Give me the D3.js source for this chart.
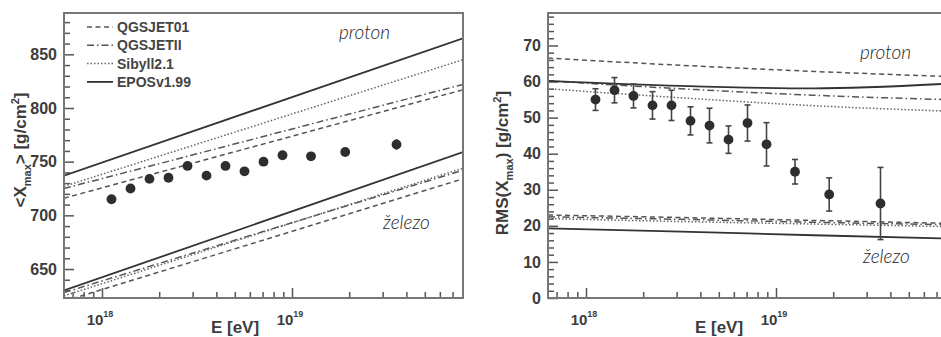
<!DOCTYPE html>
<html>
<head>
<meta charset="utf-8">
<script src="https://cdn.jsdelivr.net/npm/d3@7"></script>
<style>
  body { margin: 0; background: #fff; }
  svg { display: block; font-family: "Liberation Sans", Arial, sans-serif; }
</style>
</head>
<body>
<div id="main"></div>
<script>
// measured bins, log10(E/eV)
const binLogE = [18.05, 18.15, 18.25, 18.35, 18.45, 18.55, 18.65, 18.75, 18.85, 18.95, 19.1, 19.28, 19.55];
const xmaxMean = [715, 725, 734, 735, 746, 737, 746, 741, 750, 756, 755, 759, 766];
const xmaxErr  = [2, 2, 2, 2, 2, 2, 3, 3, 3, 3, 3, 4, 5];
const rmsMean  = [55.0, 57.6, 56.0, 53.4, 53.4, 49.1, 47.8, 43.9, 48.5, 42.6, 35.0, 28.7, 26.2];
const rmsErr   = [3.0, 3.5, 3.3, 3.8, 4.2, 3.9, 4.8, 3.8, 5.0, 6.0, 3.4, 4.6, 10.0];

// hadronic models, in legend order
const models = ["QGSJET01", "QGSJETII", "Sibyll2.1", "EPOSv1.99"];

// model predictions (knots in log10 E)
const xmaxKnots = [17.8, 19.9];
const xmaxProton = [[716, 817], [725, 822], [727, 845], [737, 865]];
const xmaxIron   = [[620, 734], [628, 742], [625, 744], [630, 759]];

const rmsKnots = [17.8, 18.5, 19.2, 19.9];
const rmsProton = [[66.5, 64.5, 62.8, 61.4], [60.2, 58.0, 56.2, 55.0], [58.0, 55.5, 53.3, 51.8], [60.2, 58.8, 58.1, 59.4]];
const rmsIron   = [[23.0, 22.3, 21.5, 20.7], [22.5, 21.8, 21.0, 20.3], [22.0, 21.2, 20.5, 19.8], [19.3, 18.4, 17.4, 16.5]];

const xTickValues = [1e18, 1e19];

const width = 941, height = 337;
const ink = "#3c3c3c";

// line style per model
const dashes = ["5,3.5", "7,3,1.5,3", "1.5,2", null];
const strokeW = [1.5, 1.5, 1.5, 1.8];
const strokeC = ["#555", "#555", "#666", "#333"];

const svg = d3.select("#main")
  .append("svg")
  .attr("width", width)
  .attr("height", height);

function drawPanel(opt) {
  const x = d3.scaleLog().domain([Math.pow(10, 17.8), Math.pow(10, 19.9)]).range([opt.left, opt.left + 399]);
  const y = d3.scaleLinear().domain(opt.yDomain).range([298, 13]);

  const g = svg.append("g");

  const clipId = "clip" + opt.id;
  g.append("clipPath").attr("id", clipId)
    .append("rect")
    .attr("x", x.range()[0]).attr("y", 13)
    .attr("width", 399).attr("height", 285);

  // y axis: majors + minors, pointing inward
  const yMajor = g.append("g")
    .attr("transform", "translate(" + x.range()[0] + ",0)")
    .call(d3.axisLeft(y).tickValues(opt.yMajor).tickSize(-10).tickPadding(7));
  const yMinor = g.append("g")
    .attr("transform", "translate(" + x.range()[0] + ",0)")
    .call(d3.axisLeft(y).tickValues(opt.yMinor).tickSize(-6).tickFormat(""));

  // x axis
  const minorE = [];
  for (let k = 17; k <= 19; k++) {
    for (let m = 2; m <= 9; m++) {
      const v = m * Math.pow(10, k);
      if (v > x.domain()[0] && v < x.domain()[1]) minorE.push(v);
    }
  }
  const xMajor = g.append("g")
    .attr("transform", "translate(0,298)")
    .call(d3.axisBottom(x).tickValues(xTickValues).tickSize(-10).tickFormat(""));
  const xMinor = g.append("g")
    .attr("transform", "translate(0,298)")
    .call(d3.axisBottom(x).tickValues(minorE).tickSize(-6).tickFormat(""));

  [yMajor, yMinor, xMajor, xMinor].forEach(a => {
    a.select(".domain").remove();
    a.selectAll("line").attr("stroke", "#555").attr("stroke-width", 1.5);
  });
  yMajor.selectAll("text")
    .attr("fill", ink)
    .style("font-size", "16px")
    .style("font-weight", "bold");

  // x tick labels 10^n
  xTickValues.forEach(v => {
    const t = g.append("text")
      .attr("x", x(v) - 2)
      .attr("y", 325)
      .attr("text-anchor", "middle")
      .attr("fill", ink)
      .style("font-size", "15px")
      .style("font-weight", "bold");
    t.append("tspan").text("10");
    t.append("tspan").attr("dy", -8).style("font-size", "9px").text(Math.round(Math.log10(v)));
  });

  // axis titles
  g.append("text")
    .attr("x", x(Math.pow(10, 18.7)))
    .attr("y", 333)
    .attr("text-anchor", "middle")
    .attr("fill", ink)
    .style("font-size", "17px")
    .style("font-weight", "bold")
    .text("E [eV]");

  const yt = g.append("text")
    .attr("transform", "translate(" + opt.yTitleX + "," + opt.yTitleY + ") rotate(-90)")
    .attr("text-anchor", "middle")
    .attr("fill", ink)
    .style("font-size", "17px")
    .style("font-weight", "bold");
  yt.append("tspan").text(opt.yTitle[0]);
  yt.append("tspan").attr("dy", 5).style("font-size", "11px").text("max");
  yt.append("tspan").attr("dy", -5).text(opt.yTitle[1]);
  yt.append("tspan").attr("dy", -7).style("font-size", "11px").text("2");
  yt.append("tspan").attr("dy", 7).text("]");

  // model curves
  const plot = g.append("g").attr("clip-path", "url(#" + clipId + ")");
  const line = d3.line()
    .curve(d3.curveMonotoneX)
    .x(d => x(Math.pow(10, d[0])))
    .y(d => y(d[1]));
  [opt.proton, opt.iron].forEach(set => {
    set.forEach((vals, i) => {
      plot.append("path")
        .datum(opt.knots.map((k, j) => [k, vals[j]]))
        .attr("d", line)
        .attr("fill", "none")
        .attr("stroke", strokeC[i])
        .attr("stroke-width", strokeW[i])
        .attr("stroke-dasharray", dashes[i]);
    });
  });

  // data points with error bars
  const pts = plot.selectAll(".pt")
    .data(binLogE.map((e, i) => ({ e: e, v: opt.mean[i], s: opt.err[i] })))
    .enter().append("g");
  pts.append("line")
    .attr("x1", d => x(Math.pow(10, d.e))).attr("x2", d => x(Math.pow(10, d.e)))
    .attr("y1", d => y(d.v + d.s)).attr("y2", d => y(d.v - d.s))
    .attr("stroke", "#444").attr("stroke-width", 1.6);
  if (opt.caps) {
    [1, -1].forEach(sg => {
      pts.append("line")
        .attr("x1", d => x(Math.pow(10, d.e)) - 3).attr("x2", d => x(Math.pow(10, d.e)) + 3)
        .attr("y1", d => y(d.v + sg * d.s)).attr("y2", d => y(d.v + sg * d.s))
        .attr("stroke", "#444").attr("stroke-width", 1.6);
    });
  }
  pts.append("circle")
    .attr("cx", d => x(Math.pow(10, d.e)))
    .attr("cy", d => y(d.v))
    .attr("r", 4.9)
    .attr("fill", "#2e2e2e");

  // frame
  g.append("rect")
    .attr("x", x.range()[0]).attr("y", 13)
    .attr("width", 399).attr("height", 285)
    .attr("fill", "none")
    .attr("stroke", "#777")
    .attr("stroke-width", 2);

  // composition labels
  opt.tags.forEach(tg => {
    g.append("text")
      .attr("x", tg.x).attr("y", tg.y)
      .attr("fill", "#222")
      .style("font-family", "Lato, 'Open Sans', sans-serif")
      .style("font-style", "italic")
      .style("font-weight", 300)
      .style("font-size", "19px")
      .text(tg.t);
  });

  return { x: x, y: y, g: g };
}

drawPanel({
  id: "L", left: 64, yDomain: [623, 888.5],
  yMajor: d3.range(650, 851, 50), yMinor: d3.range(630, 889, 10).filter(v => v % 50 !== 0),
  yTitle: ["<X", "> [g/cm"], yTitleX: 26, yTitleY: 150,
  knots: xmaxKnots, proton: xmaxProton, iron: xmaxIron,
  mean: xmaxMean, err: xmaxErr, caps: false,
  tags: [{ t: "proton", x: 339, y: 39 }, { t: "železo", x: 383, y: 229 }]
});

drawPanel({
  id: "R", left: 548, yDomain: [0, 79],
  yMajor: d3.range(0, 71, 10), yMinor: d3.range(2, 79, 2).filter(v => v % 10 !== 0),
  yTitle: ["RMS(X", ") [g/cm"], yTitleX: 508, yTitleY: 163,
  knots: rmsKnots, proton: rmsProton, iron: rmsIron,
  mean: rmsMean, err: rmsErr, caps: true,
  tags: [{ t: "proton", x: 860, y: 59 }, { t: "železo", x: 863, y: 263 }]
});

// legend (left panel)
const legend = svg.append("g");
models.forEach((m, i) => {
  const ly = 27 + i * 18.3;
  legend.append("line")
    .attr("x1", 87).attr("x2", 113)
    .attr("y1", ly).attr("y2", ly)
    .attr("stroke", strokeC[i])
    .attr("stroke-width", strokeW[i])
    .attr("stroke-dasharray", dashes[i]);
  legend.append("text")
    .attr("x", 117).attr("y", ly + 5)
    .attr("fill", "#444")
    .style("font-size", "14px")
    .style("font-weight", "bold")
    .text(m);
});
</script>
</body>
</html>
